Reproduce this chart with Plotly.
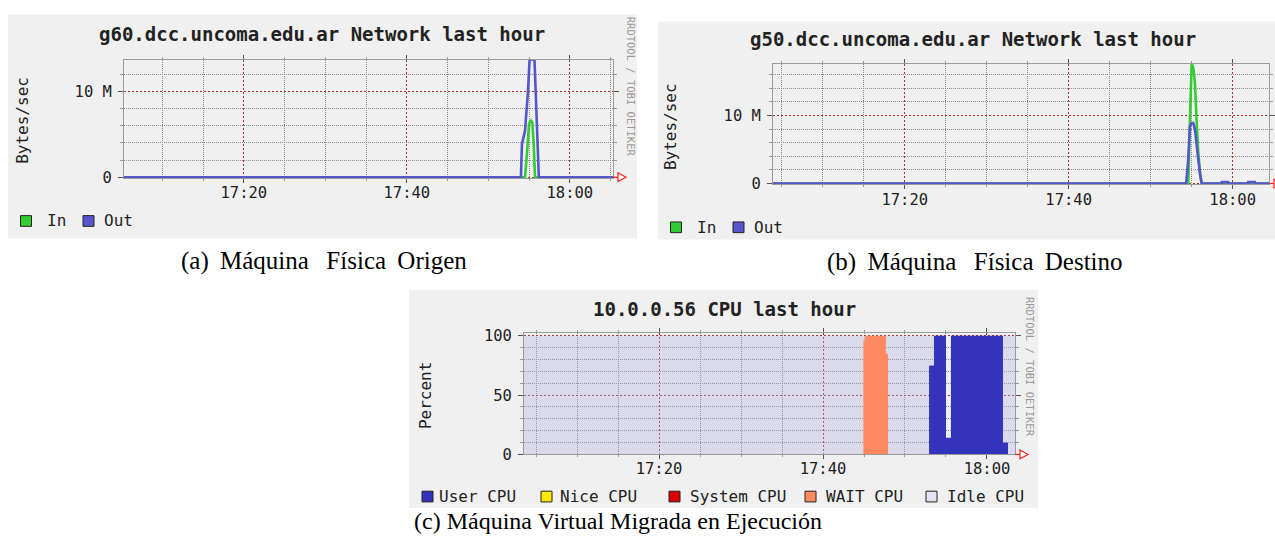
import plotly.graph_objects as go

W, H = 1275, 550
DAY = "2012-05-10 "

# ---------------- data ----------------
# (a) g60 network (values in M bytes/sec)
a_out_time = ["17:05:18", "17:54:00", "17:54:08", "17:54:30", "17:54:52", "17:55:04",
              "17:55:40", "17:55:50", "17:55:58", "17:56:04", "17:56:12", "18:05:18"]
a_out = [0, 0, 3.9, 5.4, 10.0, 13.75, 13.75, 9.7, 5.0, 2.3, 0, 0]
a_in_time = ["17:05:18", "17:54:30", "17:54:44", "17:55:00", "17:55:12", "17:55:24",
             "17:55:34", "17:55:44", "18:05:18"]
a_in = [0, 0, 2.6, 6.2, 6.7, 6.4, 3.9, 0, 0]

# (b) g50 network
b_out_time = ["17:03:56", "17:54:20", "17:54:35", "17:54:47", "17:55:00", "17:55:12",
              "17:55:24", "17:55:37", "17:55:48", "17:56:01", "17:56:13", "17:58:38",
              "17:58:40", "17:59:26", "17:59:28", "18:01:52", "18:01:54", "18:02:42",
              "18:02:44", "18:04:26"]
b_out = [0, 0, 3.6, 8.4, 8.9, 8.9, 8.0, 6.0, 3.6, 1.4, 0, 0, 0.2, 0.2, 0, 0, 0.2, 0.2, 0, 0]
b_in_time = ["17:03:56", "17:54:35", "17:54:47", "17:55:00", "17:55:12", "17:55:24",
             "17:55:37", "17:55:48", "17:56:01", "17:56:13", "18:04:26"]
b_in = [0, 0, 9.0, 17.6, 17.0, 14.8, 8.9, 4.6, 1.7, 0, 0]

# (c) 10.0.0.56 CPU (percent, stacked)
c_time = ["17:03:32", "17:44:55", "17:45:08", "17:47:40", "17:47:56", "17:52:56",
          "17:53:32", "17:55:00", "17:55:36", "18:01:57", "18:02:34", "18:03:25"]
c_user = [0, 0, 0, 0, 0, 75, 100, 14, 100, 10, 0, 0]
c_nice = [0] * 12
c_system = [0] * 12
c_wait = [0, 96, 100, 85, 0, 0, 0, 0, 0, 0, 0, 0]
c_idle = [100, 4, 0, 15, 100, 25, 0, 0, 0, 90, 100, 100]

time_ticks = ["17:20", "17:40", "18:00"]
net_ticks = [0, 10]
net_ticktext = ["0", "10 M"]
cpu_ticks = [0, 50, 100]
cpu_ticktext = ["0", "50", "100"]

# grid positions (styling)
MINOR_X = ["17:05", "17:10", "17:15", "17:25", "17:30", "17:35", "17:45", "17:50", "17:55", "18:05"]
MINOR_NET = [2, 4, 6, 8, 12, 14, 16]
MINOR_CPU = [10, 20, 30, 40, 60, 70, 80, 90]

# ---------------- style ----------------
C_IN = "#33cc33"
C_OUT = "#5555cc"
C_USER = "#3333bb"
C_NICE = "#ffea00"
C_SYS = "#dd0000"
C_WAIT = "#ff8a60"
C_IDLE = "#e2e2f2"
C_IDLE_FILL = "rgba(175,175,225,0.34)"
PANEL = "#f0f0f0"
MONO = "DejaVu Sans Mono"
SERIF = "Liberation Serif"
MGRID = "#a83030"
GRID = "#8c8c8c"
DASH = "1px,1px"
MDASH = "2px,2px"
FRAME = "#9a9a9a"


def xp(px):
    return px / W


def yp(py):
    return 1 - py / H


def t(lst):
    return [DAY + s for s in lst]


fig = go.Figure()

# network traces
fig.add_trace(go.Scatter(x=t(a_in_time), y=a_in, mode="lines", line=dict(color=C_IN, width=2.6),
                         xaxis="x", yaxis="y", showlegend=False))
fig.add_trace(go.Scatter(x=t(a_out_time), y=a_out, mode="lines", line=dict(color=C_OUT, width=2.6),
                         xaxis="x", yaxis="y", showlegend=False))
fig.add_trace(go.Scatter(x=t(b_in_time), y=b_in, mode="lines", line=dict(color=C_IN, width=2.6),
                         xaxis="x2", yaxis="y2", showlegend=False))
fig.add_trace(go.Scatter(x=t(b_out_time), y=b_out, mode="lines", line=dict(color=C_OUT, width=2.6),
                         xaxis="x2", yaxis="y2", showlegend=False))

# cpu stacked areas
for vals, col in [(c_user, C_USER), (c_nice, C_NICE), (c_system, C_SYS), (c_wait, C_WAIT),
                  (c_idle, C_IDLE_FILL)]:
    fig.add_trace(go.Scatter(x=t(c_time), y=vals, mode="lines", line=dict(width=0, shape="hv"),
                             fillcolor=col, stackgroup="cpu", xaxis="x3", yaxis="y3",
                             showlegend=False, hoverinfo="skip"))


def xaxis_style(dom, rng, standoff):
    return dict(domain=[xp(dom[0]), xp(dom[1])], range=[DAY + rng[0], DAY + rng[1]], type="date",
                tickmode="array", tickvals=t(time_ticks), ticktext=time_ticks,
                showgrid=True, gridcolor=MGRID, griddash=MDASH, gridwidth=1,
                minor=dict(tickmode="array", tickvals=t(MINOR_X), showgrid=True,
                           gridcolor=GRID, griddash=DASH, ticks="outside", ticklen=2,
                           tickcolor=FRAME),
                showline=True, linecolor=FRAME, mirror="ticks", ticks="outside", ticklen=4,
                tickcolor="#555555", tickfont=dict(family=MONO, size=15.5, color="#222222"),
                ticklabelstandoff=standoff, zeroline=False, fixedrange=True)


def yaxis_style(dom, rng, tv, tt, minor_vals, anchor):
    return dict(domain=[yp(dom[0]), yp(dom[1])], range=rng, tickmode="array", tickvals=tv,
                ticktext=tt, showgrid=True, gridcolor=MGRID, griddash=MDASH, gridwidth=1,
                minor=dict(tickmode="array", tickvals=minor_vals, showgrid=True,
                           gridcolor=GRID, griddash=DASH, ticks="outside", ticklen=3,
                           tickcolor=FRAME),
                showline=True, linecolor=FRAME, mirror="ticks", ticks="outside", ticklen=5,
                tickcolor="#555555", tickfont=dict(family=MONO, size=15.5, color="#222222"),
                ticklabelstandoff=3, zeroline=False, anchor=anchor, fixedrange=True)


fig.update_layout(
    width=W, height=H, margin=dict(l=0, r=0, t=0, b=0), autosize=False,
    paper_bgcolor="white", plot_bgcolor="white",
    xaxis=xaxis_style((124, 613), ("17:05:18", "18:05:18"), -4) | dict(anchor="y"),
    yaxis=yaxis_style((177.1, 55), [-0.12, 13.75], net_ticks, net_ticktext, MINOR_NET, "x"),
    xaxis2=xaxis_style((773, 1269), ("17:03:56", "18:04:26"), -3) | dict(anchor="y2"),
    yaxis2=yaxis_style((183.5, 59.5), [-0.15, 17.6], net_ticks, net_ticktext, MINOR_NET, "x2"),
    xaxis3=xaxis_style((524, 1015), ("17:03:32", "18:03:25"), -4) | dict(anchor="y3"),
    yaxis3=yaxis_style((461, 336.6), [0, 102], cpu_ticks, cpu_ticktext, MINOR_CPU, "x3"),
)

shapes = []
# panels
for (x0, y0, x1, y1) in [(8, 9, 637, 239), (658, 16, 1275, 240), (409, 292, 1038, 516)]:
    shapes.append(dict(type="rect", xref="paper", yref="paper", x0=xp(x0), x1=xp(x1), y0=yp(y1),
                       y1=yp(y0), fillcolor=PANEL, line=dict(width=0), layer="below"))
# arrows at right end of x axes
for (xr, yb) in [(613, 176), (1269, 182.5), (1015, 461)]:
    shapes.append(dict(type="line", xref="paper", yref="paper", x0=xp(xr), x1=xp(xr + 6),
                       y0=yp(yb), y1=yp(yb), line=dict(color="#ff2020", width=1.2)))
    shapes.append(dict(type="path", xref="paper", yref="paper",
                       path=f"M {xp(xr + 5)} {yp(yb - 4.5)} L {xp(xr + 13)} {yp(yb)} L {xp(xr + 5)} {yp(yb + 4.5)} Z",
                       fillcolor="white", line=dict(color="#ff2020", width=1.2)))

annotations = []


def text(x, y, s, size, anchor="center", angle=0, family=MONO, color="#222222", bold=False):
    annotations.append(dict(x=xp(x), y=yp(y), xref="paper", yref="paper", text=f"<b>{s}</b>" if bold else s,
                            showarrow=False, xanchor=anchor, yanchor="middle", textangle=angle,
                            font=dict(family=family, size=size, color=color)))


def legend(items, yc):
    for (sx, col, tx, label) in items:
        shapes.append(dict(type="rect", xref="paper", yref="paper", x0=xp(sx), x1=xp(sx + 11),
                           y0=yp(yc + 5.5), y1=yp(yc - 5.5), fillcolor=col,
                           line=dict(color="#222222", width=1)))
        text(tx, yc, label, 16, anchor="left")


# titles
text(322, 28.5, "g60.dcc.uncoma.edu.ar Network last hour", 19, bold=True)
text(973, 33.5, "g50.dcc.uncoma.edu.ar Network last hour", 19, bold=True)
text(724, 311.5, "10.0.0.56 CPU last hour", 19, bold=True)
# y labels
text(22.5, 117.5, "Bytes/sec", 16, angle=-90)
text(670, 124.5, "Bytes/sec", 16, angle=-90)
text(425, 401, "Percent", 16, angle=-90)
# rrdtool watermark
text(631, 83, "RRDTOOL / TOBI OETIKER", 10.5, angle=90, color="#9a9a9a")
text(1030, 371, "RRDTOOL / TOBI OETIKER", 10.5, angle=90, color="#9a9a9a")
# legends
legend([(20.5, C_IN, 45, "In"), (83, C_OUT, 102, "Out")], 221)
legend([(670.5, C_IN, 695, "In"), (733, C_OUT, 752, "Out")], 227.5)
legend([(422, C_USER, 437, "User CPU"), (541, C_NICE, 558, "Nice CPU"), (669, C_SYS, 688, "System CPU"),
        (805, C_WAIT, 824, "WAIT CPU"), (926, C_IDLE, 945, "Idle CPU")], 504.3)
# captions
text(324, 262, "(a)\u2009 Máquina&nbsp;&nbsp;\u2009Física\u2009 Origen", 25, family=SERIF, color="black")
text(975, 263, "(b)\u2009 Máquina&nbsp;&nbsp;\u2009Física\u2009 Destino", 25, family=SERIF, color="black")
text(412, 529, "(c) Máquina Virtual Migrada en Ejecución", 24, anchor="left", family=SERIF, color="black")

fig.update_layout(shapes=shapes, annotations=annotations)
fig.write_html("out.html", config={"displayModeBar": False},
               post_script="document.body.style.margin='0';document.body.style.overflow='hidden';")
